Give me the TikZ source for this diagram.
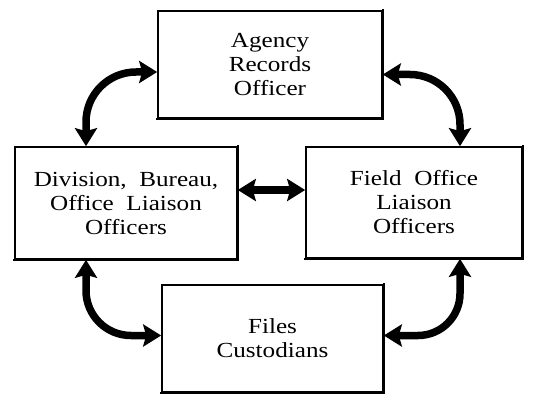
\documentclass[tikz,border=0pt]{standalone}
\usepackage{fontspec}
\setmainfont[FakeStretch=1.17]{Liberation Serif}
\usetikzlibrary{arrows.meta,calc}
\begin{document}
\begin{tikzpicture}[x=1pt,y=-1pt,
  box/.style={draw=black,line width=1.6pt,rectangle,inner sep=0pt,align=center,
    font=\fontsize{21.5}{24}\selectfont},
  edge/.style={line width=2.6pt,line cap=rect},
  link/.style={line width=7.5pt,{Stealth[length=18pt,width=22pt,inset=3pt]}-{Stealth[length=18pt,width=22pt,inset=3pt]}}]
\useasboundingbox (0,0) rectangle (533,396);
\node[box,minimum width=224pt,minimum height=107pt] (top) at (270,64.5) {Agency\\Records\\Officer};
\node[box,minimum width=222pt,minimum height=112pt] (left) at (126,203) {Division,\ \ Bureau,\\Office\ \ Liaison\\Officers};
\node[box,minimum width=216pt,minimum height=111pt] (right) at (414,202.5) {Field\ \ Office\\Liaison\\Officers};
\node[box,minimum width=221pt,minimum height=107pt] (bot) at (272.5,338.5) {Files\\Custodians};
\foreach \n in {top,left,right,bot}
  \draw[edge] (\n.south west) -- (\n.south east) -- (\n.north east);
\coordinate (a1) at ($(top.west)+(0,7.5)$);
\coordinate (a2) at ($(left.north)+(-40,0)$);
\coordinate (b1) at ($(top.east)+(0,10)$);
\coordinate (b2) at ($(right.north)+(46,0)$);
\coordinate (c1) at ($(left.south)+(-40,0)$);
\coordinate (c2) at ($(bot.west)+(0,-3)$);
\coordinate (d1) at ($(right.south)+(46,0)$);
\coordinate (d2) at ($(bot.east)+(0,-3)$);
\coordinate (m1) at ($(left.east)+(0,-13)$);
\coordinate (m2) at ($(right.west)+(0,-12.5)$);
\draw[link,rounded corners=50pt] (a1) -| (a2);
\draw[link,rounded corners=50pt] (b1) -| (b2);
\draw[link,rounded corners=45pt] (c1) |- (c2);
\draw[link,rounded corners=42pt] (d1) |- (d2);
\draw[link] (m1) -- (m2);
\end{tikzpicture}
\end{document}
